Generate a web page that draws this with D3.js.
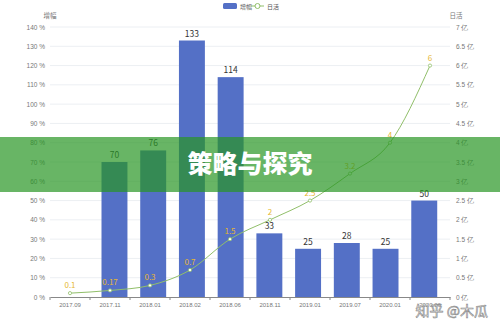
<!DOCTYPE html>
<html>
<head>
<meta charset="utf-8">
<script src="https://cdn.jsdelivr.net/npm/d3@7"></script>
<style>
  body { margin: 0; background: #fff; }
  svg { display: block; font-family: "Noto Sans CJK SC", "Noto Sans", sans-serif; }
</style>
</head>
<body>
<div id="graph"></div>
<script>
// chart data
const categories = ["2017.09", "2017.11", "2018.01", "2018.02", "2018.06", "2018.11", "2019.01", "2019.07", "2020.01", "2020.06"];
const growth = [null, 70, 76, 133, 114, 33, 25, 28, 25, 50];      // 增幅 (%)
const dau = [0.1, 0.17, 0.3, 0.7, 1.5, 2, 2.5, 3.2, 4, 6];          // 日活 (亿)
const leftTicks = d3.range(0, 141, 10);
const rightTicks = d3.range(0, 7.01, 0.5);

const width = 500, height = 329;
const margin = { top: 27, right: 50, bottom: 32, left: 50 };
const plotW = width - margin.left - margin.right;
const plotH = height - margin.top - margin.bottom;

const svg = d3.select("#graph").append("svg")
  .attr("width", width).attr("height", height);

const g = svg.append("g")
  .attr("transform", "translate(" + margin.left + "," + margin.top + ")");

const x = d3.scaleBand().domain(categories).range([0, plotW]).padding(0.33);
const xOuter = d3.scaleBand().domain(categories).range([0, plotW]);
const yL = d3.scaleLinear().domain([0, 140]).range([plotH, 0]);
const yR = d3.scaleLinear().domain([0, 7]).range([plotH, 0]);

// grid lines
g.selectAll(".grid").data(leftTicks.slice(1)).enter().append("line")
  .attr("x1", 0).attr("x2", plotW)
  .attr("y1", d => yL(d)).attr("y2", d => yL(d))
  .attr("stroke", "#eceff3").attr("stroke-width", 1);

// left axis
const axL = g.append("g").call(d3.axisLeft(yL).tickValues(leftTicks).tickFormat(d => d + " %").tickSize(0).tickPadding(5));
axL.select(".domain").remove();
axL.selectAll("text").attr("fill", "#777").style("font-size", "6.5px");

// right axis
const axR = g.append("g").attr("transform", "translate(" + plotW + ",0)")
  .call(d3.axisRight(yR).tickValues(rightTicks).tickFormat(d => d + " 亿").tickSize(0).tickPadding(6));
axR.select(".domain").remove();
axR.selectAll("text").attr("fill", "#777").style("font-size", "6.5px");

// axis names
g.append("text").attr("x", 0).attr("y", -9).attr("text-anchor", "middle")
  .attr("fill", "#777").style("font-size", "6.5px").text("增幅");
g.append("text").attr("x", plotW + 6).attr("y", -9).attr("text-anchor", "middle")
  .attr("fill", "#777").style("font-size", "6.5px").text("日活");

// bars
const barData = categories.map((c, i) => ({ cat: c, v: growth[i] })).filter(d => d.v != null);
g.selectAll(".bar").data(barData).enter().append("rect")
  .attr("x", d => x(d.cat)).attr("y", d => yL(d.v))
  .attr("width", x.bandwidth()).attr("height", d => plotH - yL(d.v))
  .attr("fill", "#5470c6");
g.selectAll(".barlabel").data(barData).enter().append("text")
  .attr("x", d => x(d.cat) + x.bandwidth() / 2).attr("y", d => yL(d.v) - 4)
  .attr("text-anchor", "middle").attr("fill", "#333").style("font-size", "8.5px")
  .text(d => d.v);

// x axis
const axX = g.append("g").attr("transform", "translate(0," + plotH + ")")
  .call(d3.axisBottom(xOuter).tickSize(0).tickPadding(6));
axX.select(".domain").attr("stroke", "#888");
axX.selectAll("text").attr("fill", "#777").style("font-size", "6px");
g.selectAll(".xtick").data(d3.range(categories.length + 1)).enter().append("line")
  .attr("x1", i => i * xOuter.step()).attr("x2", i => i * xOuter.step())
  .attr("y1", plotH).attr("y2", plotH + 3).attr("stroke", "#888");

// line
const lineData = categories.map((c, i) => ({ cat: c, v: dau[i] }));
const cx = d => xOuter(d.cat) + xOuter.bandwidth() / 2;
g.append("path").datum(lineData)
  .attr("d", d3.line().x(cx).y(d => yR(d.v)).curve(d3.curveMonotoneX))
  .attr("fill", "none").attr("stroke", "#91bf6a").attr("stroke-width", 1);
g.selectAll(".pt").data(lineData).enter().append("circle")
  .attr("cx", cx).attr("cy", d => yR(d.v)).attr("r", 1.6)
  .attr("fill", "#fff").attr("stroke", "#91bf6a").attr("stroke-width", 0.8);
g.selectAll(".ptlabel").data(lineData).enter().append("text")
  .attr("x", cx).attr("y", d => yR(d.v) - 5)
  .attr("text-anchor", "middle").attr("fill", "#e6b730").style("font-size", "8px")
  .text(d => d.v);

// legend
const lg = svg.append("g").attr("transform", "translate(223,0)");
lg.append("rect").attr("x", 0).attr("y", 3).attr("width", 14).attr("height", 6).attr("rx", 1.5).attr("fill", "#5470c6");
lg.append("text").attr("x", 17).attr("y", 8.5).attr("fill", "#555").style("font-size", "6px").text("增幅");
lg.append("line").attr("x1", 28).attr("x2", 41).attr("y1", 6).attr("y2", 6).attr("stroke", "#91bf6a");
lg.append("circle").attr("cx", 34.5).attr("cy", 6).attr("r", 2.5).attr("fill", "#fff").attr("stroke", "#91bf6a");
lg.append("text").attr("x", 44).attr("y", 8.5).attr("fill", "#555").style("font-size", "6px").text("日活");

// banner
svg.append("rect").attr("x", 0).attr("y", 137).attr("width", width).attr("height", 55)
  .attr("fill", "rgb(40,150,36)").attr("fill-opacity", 0.7);
svg.append("text").attr("x", 250).attr("y", 173).attr("text-anchor", "middle")
  .attr("fill", "#fff").style("font-size", "25px").style("font-weight", "900")
  .text("策略与探究");

// watermark
svg.append("text").attr("x", 488).attr("y", 316).attr("text-anchor", "end")
  .attr("fill", "#f4f4f4").attr("stroke", "#888").attr("stroke-width", 0.6)
  .style("font-size", "14px").text("知乎 @木瓜");
</script>
</body>
</html>
